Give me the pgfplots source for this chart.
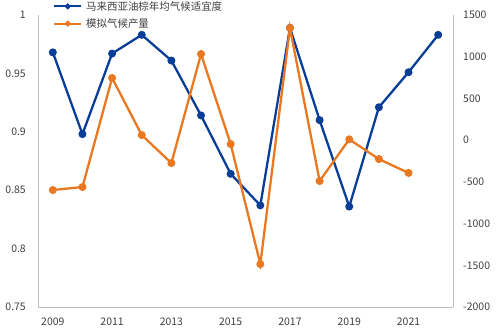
\documentclass[border=0pt]{standalone}
\usepackage{fontspec}
\setmainfont{Noto Sans CJK SC}
\usepackage{pgfplots}
\pgfplotsset{compat=1.18}
\definecolor{cblue}{RGB}{8,62,152}
\definecolor{corange}{RGB}{234,120,32}
\definecolor{axgray}{RGB}{191,191,191}
\definecolor{txtgray}{RGB}{64,64,64}
\begin{document}
\begin{tikzpicture}
\useasboundingbox (-38bp,-26bp) rectangle (462bp,307bp);
\pgfplotsset{
  common/.style={
    scale only axis, width=415bp, height=292bp, at={(0,0)}, anchor=south west,
    xmin=2008.5, xmax=2022.5,
    tick style={draw=none},
    ticklabel style={font=\fontsize{10.5}{12}\selectfont, text=txtgray, inner sep=0pt},
    /pgf/number format/assume math mode=true,
    /pgf/number format/1000 sep={},
    scaled ticks=false,
    axis line style={draw=axgray, line width=0.8pt},
  }
}
\begin{axis}[common,
  axis x line*=bottom, axis y line*=left,
  ymin=0.75, ymax=1, ytick={0.75,0.8,0.85,0.9,0.95,1},
  yticklabel style={/pgf/number format/fixed, /pgf/number format/precision=2},
  xtick={2009,2011,2013,2015,2017,2019,2021},
  xticklabel style={/pgf/number format/fixed},
  xticklabel shift=11bp, yticklabel shift=12bp,
]
\addplot[cblue, line width=2.3pt, mark=*, mark size=2.8pt] coordinates {
(2009,0.968) (2010,0.898) (2011,0.967) (2012,0.983) (2013,0.961) (2014,0.914)
(2015,0.864) (2016,0.837) (2017,0.989) (2018,0.910) (2019,0.836) (2020,0.921)
(2021,0.951) (2022,0.983)};
\end{axis}
\begin{axis}[common,
  axis x line=none, axis y line*=right,
  ymin=-2000, ymax=1500, ytick={-2000,-1500,-1000,-500,0,500,1000,1500},
  yticklabel shift=10bp,
  yticklabel style={anchor=west},
  legend style={at={(15bp,308bp)}, anchor=north west, draw=none, fill=none,
    font=\fontsize{10.5}{12}\selectfont, text=txtgray, inner sep=0pt,
    row sep=3pt, column sep=2bp, cells={anchor=west}},
  legend cell align=left,
  legend image code/.code={
    \draw[#1, line width=2pt, mark=none] (0bp,0bp) -- (27bp,0bp);
    \draw[#1, mark=*, mark size=1.6pt] plot coordinates {(13.5bp,0bp)};
  },
]
\addlegendimage{cblue, line width=2.3pt}
\addlegendentry{马来西亚油棕年均气候适宜度}
\addplot[corange, line width=2.3pt, mark=*, mark size=2.8pt] coordinates {
(2009,-598) (2010,-562) (2011,745) (2012,61) (2013,-275) (2014,1032)
(2015,-47) (2016,-1486) (2017,1344) (2018,-490) (2019,10) (2020,-227)
(2021,-393)};
\addlegendentry{模拟气候产量}
\end{axis}
\end{tikzpicture}
\end{document}
